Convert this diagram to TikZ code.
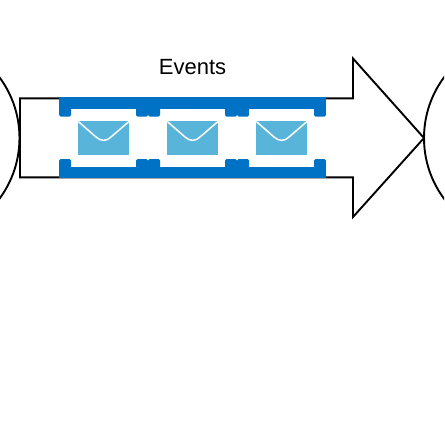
\documentclass[tikz,border=0pt]{standalone}
\usepackage{fontspec}
\setmainfont{Liberation Sans}
\definecolor{msgblue}{HTML}{0072C6}
\definecolor{envblue}{HTML}{59B4D9}
\tikzset{
  outline/.style={draw=black,line width=1.9pt,line join=miter},
  tab/.style={fill=msgblue,rounded corners=1.5pt},
  bracket/.pic={
    \fill[msgblue] (0.2,-0.7) rectangle (88.9,11);
    \fill[msgblue] (0.2,69) rectangle (88.9,80);
    \path[tab] (0.2,4) rectangle (12,18.7);
    \path[tab] (77,4) rectangle (88.9,18.7);
    \path[tab] (0.2,61) rectangle (12,76);
    \path[tab] (77,61) rectangle (88.9,76);
    \fill[envblue] (19.3,23) rectangle (70,57);
    \draw[white,line width=1.5pt] (19.3,23.5) -- (37,39) .. controls (42,43.5) and (47.5,43.5) .. (52,39) -- (70,23.5);
  }
}
\begin{document}
\begin{tikzpicture}[x=1pt,y=-1pt]
\useasboundingbox (0,0) rectangle (444,444);
\clip (0,0) rectangle (444,444);
\fill[white] (0,0) rectangle (444,444);
\draw[outline] (-82.5,138) circle[radius=102];
\draw[outline] (526,138) circle[radius=102];
\draw[outline] (20,98.3) -- (353,98.3) -- (353,58.5) -- (424,138) -- (353,217) -- (353,177.3) -- (20,177.3) -- cycle;
\pic at (59,98) {bracket};
\pic at (148,98) {bracket};
\pic at (237,98) {bracket};
\node[font=\fontsize{22}{26}\selectfont,inner sep=0pt] (title) at (192.5,67) {Events};
\end{tikzpicture}
\end{document}
